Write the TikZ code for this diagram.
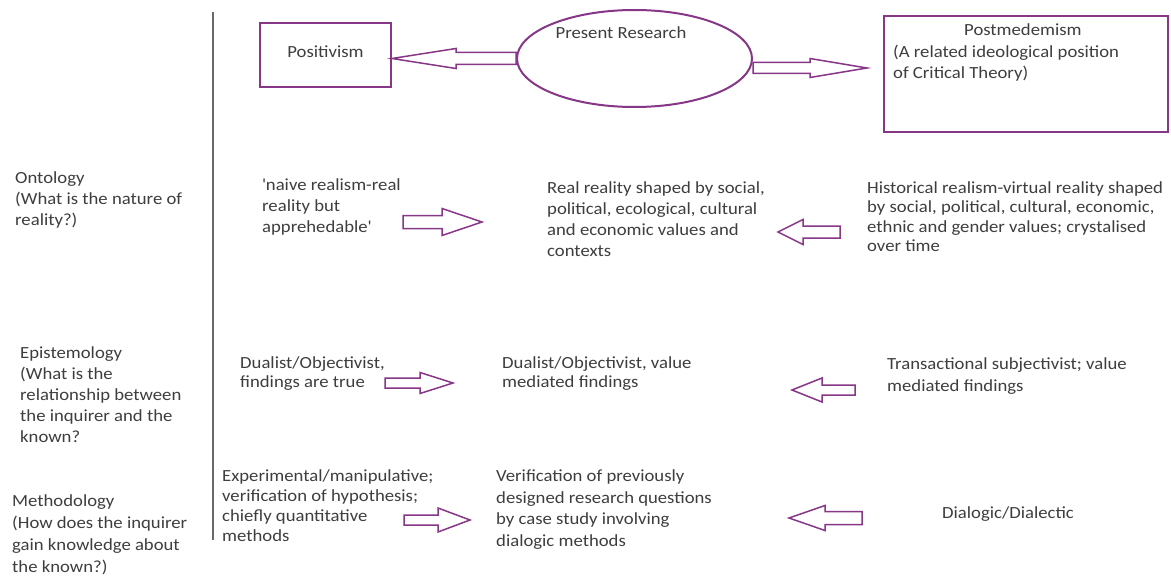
\documentclass[tikz,border=0pt]{standalone}
\usepackage{fontspec}
\setmainfont{Carlito}[FakeStretch=1.1]
\usetikzlibrary{calc,shapes.geometric}
\definecolor{pur}{RGB}{135,55,135}
\definecolor{txt}{RGB}{62,62,62}
\definecolor{rulec}{RGB}{105,105,105}
% #1 tail, #2 tip, #3 shaft half width, #4 head half width, #5 signed head length
\newcommand\blockarr[5]{%
  \draw[blk] let \p1=(#1), \p2=(#2) in
    (\x1,\y1+#3pt) -- (\x2-#5pt,\y1+#3pt) -- (\x2-#5pt,\y1+#4pt) -- (\x2,\y1)
    -- (\x2-#5pt,\y1-#4pt) -- (\x2-#5pt,\y1-#3pt) -- (\x1,\y1-#3pt) -- cycle;}
\begin{document}
\begin{tikzpicture}[x=1pt,y=-1pt,
  lbl/.style={anchor=north west, inner sep=0pt, align=left, text=txt,
              font=\fontsize{17}{21}\selectfont},
  frame/.style={draw=pur, line width=2pt},
  blk/.style={draw=pur, line width=1.5pt, line join=miter}]
\useasboundingbox[fill=white] (0,0) rectangle (1171,578);

% vertical rule
\coordinate (vt) at (213,12);
\coordinate (vb) at (213,540);
\draw[rulec, line width=2pt] (vt) -- (vb);

% top row
\node[frame, minimum width=131pt, minimum height=64pt, inner sep=0pt, text=txt,
      font=\fontsize{17}{21}\selectfont, text depth=6pt] (pos) at (325.5,55) {Positivism};
\node[frame, ellipse, minimum width=235pt, minimum height=97pt, inner sep=0pt] (pr) at (634.5,58.5) {};
\node[inner sep=0pt, text=txt, font=\fontsize{17}{21}\selectfont] (prt) at (621,33) {Present Research};
\node[frame, minimum width=284pt, minimum height=116pt, inner sep=0pt] (pm) at (1026,74) {};
\node[lbl, font=\fontsize{17}{21.5}\selectfont] (pmt) at (893,23.5)
  {\hspace*{71pt}Postmedemism\\(A related ideological position\\of Critical Theory)};

\coordinate (a2) at (867,68);
\blockarr{pr.west}{pos.east}{6}{10}{-64}
\blockarr{$(pr.east)+(0,9.5)$}{a2}{5.5}{9.5}{57}

% row labels
\node[lbl] (ont) at (15,171.5) {Ontology\\(What is the nature of\\reality?)};
\node[lbl] (epi) at (20,346.5) {Epistemology\\(What is the\\relationship between\\the inquirer and the\\known?};
\node[lbl, font=\fontsize{17}{22}\selectfont] (meth) at (12,494.5) {Methodology\\(How does the inquirer\\gain knowledge about\\the known?)};

% column 1
\node[lbl] (c1o) at (262,178.5) {\textquotesingle naive realism-real\\reality but\\apprehedable\textquotesingle};
\node[lbl, font=\fontsize{17}{19}\selectfont] (c1e) at (240,356.5) {Dualist/Objectivist,\\findings are true};
\node[lbl, font=\fontsize{17}{20}\selectfont] (c1m) at (222,469.5) {Experimental/manipulative;\\verification of hypothesis;\\chiefly quantitative\\methods};

% column 2
\node[lbl] (c2o) at (547,181.5) {Real reality shaped by social,\\political, ecological, cultural\\and economic values and\\contexts};
\node[lbl, font=\fontsize{17}{19}\selectfont] (c2e) at (502,356.5) {Dualist/Objectivist, value\\mediated findings};
\node[lbl, font=\fontsize{17}{21.7}\selectfont] (c2m) at (496,469.5) {Verification of previously\\designed research questions\\by case study involving\\dialogic methods};

% column 3
\node[lbl, font=\fontsize{17}{19.5}\selectfont] (c3o) at (867,181) {Historical realism-virtual reality shaped\\by social, political, cultural, economic,\\ethnic and gender values; crystalised\\over time};
\node[lbl, font=\fontsize{17}{22}\selectfont] (c3e) at (887,357.5) {Transactional subjectivist; value\\mediated findings};
\node[lbl] (c3m) at (942,506.5) {Dialogic/Dialectic};

% row arrows
\coordinate (o1t) at (403,222); \coordinate (o1h) at (482,222);
\coordinate (o2t) at (840,232); \coordinate (o2h) at (778,232);
\coordinate (e1t) at (385,383); \coordinate (e1h) at (453,383);
\coordinate (e2t) at (855,390); \coordinate (e2h) at (792,390);
\coordinate (m1t) at (404,520); \coordinate (m1h) at (470,520);
\coordinate (m2t) at (862,518); \coordinate (m2h) at (789,518);
\blockarr{o1t}{o1h}{6.5}{13.5}{40}
\blockarr{o2t}{o2h}{6}{12.5}{-25}
\blockarr{e1t}{e1h}{5}{10.5}{33}
\blockarr{e2t}{e2h}{5}{12}{-30}
\blockarr{m1t}{m1h}{5}{12}{32}
\blockarr{m2t}{m2h}{6.5}{12.5}{-36}
\end{tikzpicture}
\end{document}
